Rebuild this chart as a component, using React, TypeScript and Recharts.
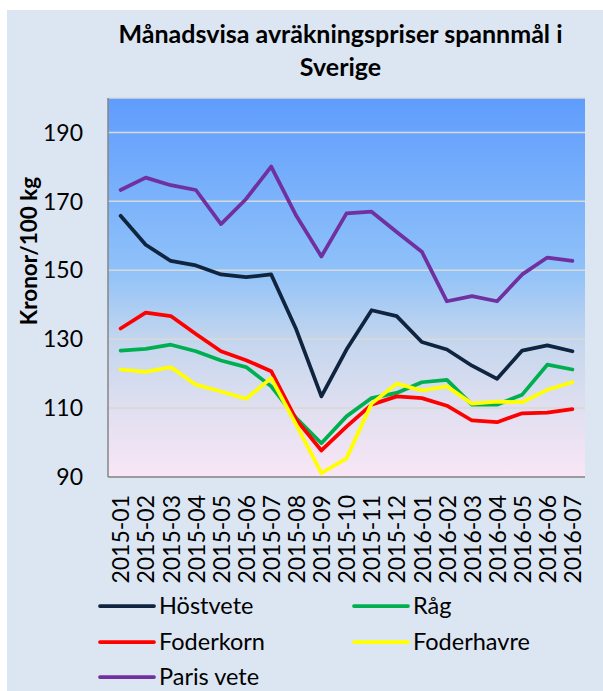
import React from 'react';
import { LineChart, Line, XAxis, YAxis, CartesianGrid } from 'recharts';

const months = [
  '2015-01', '2015-02', '2015-03', '2015-04', '2015-05', '2015-06', '2015-07',
  '2015-08', '2015-09', '2015-10', '2015-11', '2015-12', '2016-01', '2016-02',
  '2016-03', '2016-04', '2016-05', '2016-06', '2016-07',
];
const hostvete = [165.8, 157.4, 152.7, 151.4, 148.8, 148.0, 148.8, 132.8, 113.4, 127.0, 138.4, 136.7, 129.2, 127.0, 122.3, 118.5, 126.7, 128.2, 126.5];
const rag = [126.7, 127.2, 128.4, 126.5, 123.8, 121.9, 116.3, 107.1, 99.8, 107.6, 112.9, 114.4, 117.5, 118.2, 111.0, 111.0, 113.9, 122.6, 121.2];
const foderkorn = [133.1, 137.7, 136.7, 131.5, 126.5, 123.9, 120.7, 106.6, 97.7, 104.6, 111.0, 113.4, 112.9, 110.7, 106.4, 105.9, 108.5, 108.7, 109.7];
const foderhavre = [121.2, 120.5, 121.9, 116.8, 114.8, 112.7, 118.7, 105.1, 91.1, 95.4, 111.3, 117.1, 115.1, 116.3, 111.3, 111.9, 111.7, 115.3, 117.5];
const parisVete = [173.3, 176.9, 174.7, 173.3, 163.4, 170.7, 180.1, 165.8, 154.0, 166.5, 167.0, 161.1, 155.4, 141.0, 142.5, 141.0, 148.8, 153.7, 152.7];
const yTicks = [90, 110, 130, 150, 170, 190];
const yDomain = [90, 200];

const titleLines = ['Månadsvisa avräkningspriser spannmål i', 'Sverige'];
const yTitle = 'Kronor/100 kg';

const series = [
  { key: 'hostvete', name: 'Höstvete', color: '#0f243e', values: hostvete },
  { key: 'rag', name: 'Råg', color: '#00b050', values: rag },
  { key: 'foderkorn', name: 'Foderkorn', color: '#ff0000', values: foderkorn },
  { key: 'foderhavre', name: 'Foderhavre', color: '#ffff00', values: foderhavre },
  { key: 'parisVete', name: 'Paris vete', color: '#7030a0', values: parisVete },
];

const data = months.map((m, i) => {
  const row: Record<string, string | number> = { month: m };
  series.forEach((s) => {
    row[s.key] = s.values[i];
  });
  return row;
});

const FONT = 'Lato, "Open Sans", sans-serif';

const XTick = (props: any) => {
  const { x, y, payload } = props;
  return (
    <text
      x={x}
      y={y}
      transform={`rotate(-90, ${x}, ${y})`}
      textAnchor="end"
      dy="0.38em"
      fontSize={23}
      fontFamily={FONT}
      fill="#000"
    >
      {payload.value}
    </text>
  );
};

const YTitle = () => (
  <text
    x={37}
    y={251}
    transform="rotate(-90, 37, 251)"
    textAnchor="middle"
    fontSize={22.5}
    fontWeight="bold"
    fontFamily={FONT}
    fill="#000"
  >
    {yTitle}
  </text>
);

const legendPos = [
  { x: 100, y: 606 },
  { x: 354, y: 606 },
  { x: 100, y: 642 },
  { x: 354, y: 642 },
  { x: 100, y: 677 },
];

export default function App() {
  return (
    <div style={{ position: 'absolute', left: 0, top: 0, width: 603, height: 691, background: '#fff', overflow: 'hidden' }}>
      <div style={{ position: 'absolute', left: 7, top: 10, width: 596, height: 681, background: '#dce6f2' }} />
      <div
        style={{
          position: 'absolute',
          left: 0,
          top: 17,
          width: 681,
          textAlign: 'center',
          fontFamily: FONT,
          fontWeight: 'bold',
          fontSize: 25,
          lineHeight: '33px',
          color: '#000',
        }}
      >
        {titleLines.map((t) => (
          <div key={t}>{t}</div>
        ))}
      </div>
      <div style={{ position: 'absolute', left: 0, top: 0 }}>
        <LineChart width={603} height={691} data={data} margin={{ top: 98, right: 18, bottom: 114, left: 8 }}>
          <defs>
            <linearGradient id="plotBg" x1="0" y1="0" x2="0" y2="1">
              <stop offset="0" stopColor="#5f9dfd" />
              <stop offset="0.45" stopColor="#8fc1f9" />
              <stop offset="0.64" stopColor="#c4d6ee" />
              <stop offset="0.82" stopColor="#e0dff0" />
              <stop offset="1" stopColor="#f9e6f6" />
            </linearGradient>
          </defs>
          <CartesianGrid vertical={false} stroke="#d9d9d9" strokeWidth={1.5} fill="url(#plotBg)" fillOpacity={1} />
          <XAxis
            dataKey="month"
            interval={0}
            height={100}
            padding={{ left: 12.6, right: 12.6 }}
            tick={<XTick />}
            tickLine={false}
            tickSize={0}
            tickMargin={18}
            axisLine={{ stroke: '#868686', strokeWidth: 1.5 }}
          />
          <YAxis
            width={100}
            domain={yDomain}
            ticks={yTicks}
            interval={0}
            tickLine={false}
            tickSize={0}
            tickMargin={25}
            axisLine={{ stroke: '#868686', strokeWidth: 1.5 }}
            tick={{ fontSize: 23, fontFamily: FONT, fill: '#000' }}
            label={{ content: <YTitle /> }}
          />
          {series.map((s) => (
            <Line
              key={s.key}
              dataKey={s.key}
              name={s.name}
              stroke={s.color}
              strokeWidth={3.75}
              strokeLinejoin="round"
              strokeLinecap="round"
              dot={false}
              activeDot={false}
              isAnimationActive={false}
            />
          ))}
        </LineChart>
      </div>
      <svg style={{ position: 'absolute', left: 0, top: 0 }} width={603} height={691}>
        {series.map((s, i) => (
          <g key={s.key}>
            <line
              x1={legendPos[i].x}
              x2={legendPos[i].x + 54}
              y1={legendPos[i].y}
              y2={legendPos[i].y}
              stroke={s.color}
              strokeWidth={3.75}
              strokeLinecap="round"
            />
            <text x={legendPos[i].x + 59} y={legendPos[i].y + 8} fontSize={23.5} fontFamily={FONT} fill="#000">
              {s.name}
            </text>
          </g>
        ))}
      </svg>
    </div>
  );
}
